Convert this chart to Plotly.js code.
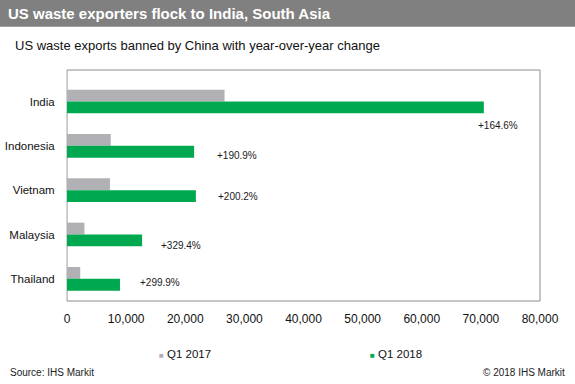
<!DOCTYPE html>
<html>
<head>
<meta charset="utf-8">
<script src="https://cdn.plot.ly/plotly-3.0.1.min.js"></script>
<style>html,body{margin:0;padding:0;background:#fff;}#chart{width:575px;height:384px;}</style>
</head>
<body>
<div id="chart"></div>
<script>
// ---- data ----
var countries = ["India", "Indonesia", "Vietnam", "Malaysia", "Thailand"];
var q1_2017 = [26650, 7400, 7270, 2950, 2240];
var q1_2018 = [70500, 21500, 21800, 12700, 8960];
var changeLabels = ["+164.6%", "+190.9%", "+200.2%", "+329.4%", "+299.9%"];
var seriesNames = ["Q1 2017", "Q1 2018"];
var xTickVals = [0, 10000, 20000, 30000, 40000, 50000, 60000, 70000, 80000];
var xTickText = ["0", "10,000", "20,000", "30,000", "40,000", "50,000", "60,000", "70,000", "80,000"];
var chartTitle = "US waste exporters flock to India, South Asia";
var chartSubtitle = "US waste exports banned by China with year-over-year change";
var sourceText = "Source: IHS Markit";
var copyrightText = "© 2018 IHS Markit";

// ---- style / layout ----
var W = 575, H = 384, ML = 67, MR = 35, MT = 70, MB = 83;
var FONT = "Liberation Sans, Arial, sans-serif";
var GRAY = "#b1b1b5", GREEN = "#00a950";
// label nudges in pixels (placement only)
var labelDx = [-8, 21, 20, 17, 18];
var labelDy = [-24, -10, -6, -11, -4];

function py(p) { return (H - MB - p) / (H - MT - MB); }
function px(p) { return (p - ML) / (W - ML - MR); }

var traces = [
  {type: "bar", orientation: "h", name: seriesNames[0], y: countries, x: q1_2017,
   marker: {color: GRAY}, hoverinfo: "x+name"},
  {type: "bar", orientation: "h", name: seriesNames[1], y: countries, x: q1_2018,
   marker: {color: GREEN}, hoverinfo: "x+name"}
];

var annotations = [];
for (var i = 0; i < countries.length; i++) {
  annotations.push({
    x: q1_2018[i], y: countries[i], xref: "x", yref: "y",
    text: changeLabels[i], showarrow: false, xanchor: "left", yanchor: "middle",
    xshift: labelDx[i], yshift: labelDy[i],
    font: {family: FONT, size: 10, color: "#1a1a1a"}
  });
}
annotations.push({
  xref: "paper", yref: "paper", x: px(13), y: py(45), xanchor: "left", yanchor: "middle",
  text: chartSubtitle, showarrow: false, font: {family: FONT, size: 13, color: "#111"}
});
// legend entries
var legendX = [157, 368];
var legendColors = [GRAY, GREEN];
for (var k = 0; k < 2; k++) {
  annotations.push({
    xref: "paper", yref: "paper", x: px(legendX[k]), y: py(353.5), xanchor: "left", yanchor: "middle",
    text: "<span style='color:" + legendColors[k] + ";font-size:8px'>■</span> " + seriesNames[k],
    showarrow: false, font: {family: FONT, size: 11.5, color: "#111"}
  });
}
annotations.push({
  xref: "paper", yref: "paper", x: px(8), y: py(372.5), xanchor: "left", yanchor: "middle",
  text: sourceText, showarrow: false, font: {family: FONT, size: 10, color: "#222"}
});
annotations.push({
  xref: "paper", yref: "paper", x: px(567), y: py(372.5), xanchor: "right", yanchor: "middle",
  text: copyrightText, showarrow: false, font: {family: FONT, size: 10, color: "#222"}
});

var layout = {
  width: W, height: H,
  margin: {l: ML, r: MR, t: MT, b: MB, pad: 0},
  paper_bgcolor: "#fff", plot_bgcolor: "#fff",
  showlegend: false,
  barmode: "group", bargap: 0.465, bargroupgap: 0,
  title: {
    text: "<b>" + chartTitle + "</b>",
    font: {family: FONT, size: 15, color: "#fff"},
    xref: "container", yref: "container", x: 8 / W, xanchor: "left",
    y: 1 - 14 / H, yanchor: "middle"
  },
  xaxis: {
    range: [0, 80000], tickvals: xTickVals, ticktext: xTickText,
    showgrid: false, zeroline: false, showline: false,
    ticks: "outside", ticklen: 7, tickcolor: "rgba(0,0,0,0)",
    tickfont: {family: FONT, size: 12, color: "#111"}, fixedrange: true
  },
  yaxis: {
    categoryorder: "array", categoryarray: countries, autorange: "reversed",
    showgrid: false, zeroline: false, showline: true, linecolor: "#d4d4d4", linewidth: 1,
    ticks: "outside", ticklen: 9, tickcolor: "rgba(0,0,0,0)",
    tickfont: {family: FONT, size: 11.5, color: "#111"}, fixedrange: true
  },
  shapes: [
    {type: "rect", xref: "paper", yref: "paper", x0: px(-5), x1: px(W + 5), y0: py(26.7), y1: py(-5),
     fillcolor: "#808080", line: {width: 0}, layer: "below"},
    {type: "rect", xref: "paper", yref: "paper", x0: 0, x1: 1, y0: 0, y1: 1,
     fillcolor: "rgba(0,0,0,0)", line: {color: "#8e8e8e", width: 1}, layer: "below"}
  ],
  annotations: annotations
};

Plotly.newPlot("chart", traces, layout, {displayModeBar: false, staticPlot: true});
</script>
</body>
</html>
